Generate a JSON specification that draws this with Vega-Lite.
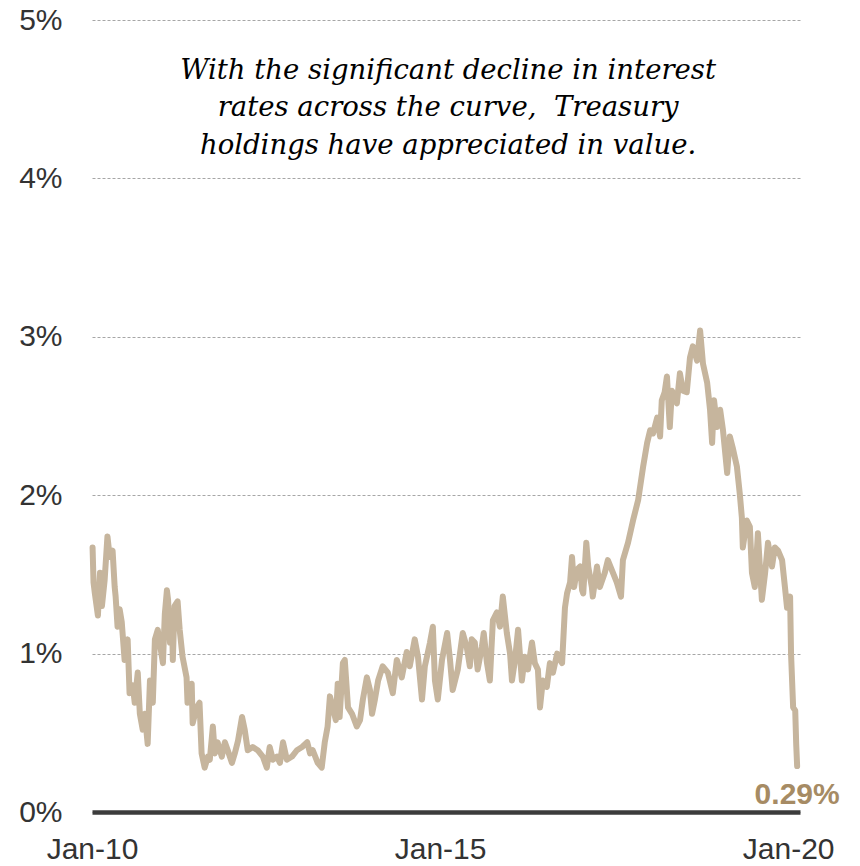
{
  "$schema": "https://vega.github.io/schema/vega-lite/v6.json",
  "width": 708,
  "height": 792,
  "autosize": "none",
  "padding": {"left": 92, "top": 20, "right": 60, "bottom": 54},
  "background": "white",
  "config": {"view": {"stroke": null}},
  "datasets": {
    "series": [
      {"date":"2010-01-04","value":1.67},{"date":"2010-01-09","value":1.45},{"date":"2010-01-16","value":1.38},{"date":"2010-02-01","value":1.24},
      {"date":"2010-02-12","value":1.51},{"date":"2010-02-22","value":1.30},{"date":"2010-03-08","value":1.46},{"date":"2010-03-23","value":1.74},
      {"date":"2010-04-04","value":1.61},{"date":"2010-04-19","value":1.65},{"date":"2010-04-30","value":1.42},{"date":"2010-05-05","value":1.36},
      {"date":"2010-05-15","value":1.17},{"date":"2010-05-26","value":1.28},{"date":"2010-06-06","value":1.20},{"date":"2010-06-21","value":0.96},
      {"date":"2010-07-07","value":1.09},{"date":"2010-07-17","value":0.75},{"date":"2010-08-03","value":0.80},{"date":"2010-08-13","value":0.69},
      {"date":"2010-08-29","value":0.88},{"date":"2010-09-09","value":0.62},{"date":"2010-09-24","value":0.52},{"date":"2010-10-05","value":0.62},
      {"date":"2010-10-20","value":0.43},{"date":"2010-11-01","value":0.83},{"date":"2010-11-16","value":0.69},{"date":"2010-11-27","value":1.09},
      {"date":"2010-12-12","value":1.15},{"date":"2010-12-22","value":1.07},{"date":"2011-01-08","value":0.94},{"date":"2011-01-18","value":1.25},
      {"date":"2011-01-29","value":1.40},{"date":"2011-02-04","value":1.34},{"date":"2011-02-14","value":1.07},{"date":"2011-02-25","value":1.21},
      {"date":"2011-03-01","value":0.96},{"date":"2011-03-10","value":1.30},{"date":"2011-03-26","value":1.33},{"date":"2011-04-06","value":1.15},
      {"date":"2011-04-21","value":0.98},{"date":"2011-05-12","value":0.85},{"date":"2011-05-17","value":0.69},{"date":"2011-06-08","value":0.81},
      {"date":"2011-06-13","value":0.56},{"date":"2011-07-04","value":0.66},{"date":"2011-07-19","value":0.69},{"date":"2011-07-30","value":0.37},
      {"date":"2011-08-15","value":0.28},{"date":"2011-09-01","value":0.35},{"date":"2011-09-11","value":0.33},{"date":"2011-09-27","value":0.54},
      {"date":"2011-10-07","value":0.37},{"date":"2011-10-22","value":0.44},{"date":"2011-11-13","value":0.35},{"date":"2011-11-29","value":0.44},
      {"date":"2011-12-14","value":0.39},{"date":"2012-01-05","value":0.31},{"date":"2012-01-20","value":0.37},{"date":"2012-02-06","value":0.45},
      {"date":"2012-02-27","value":0.60},{"date":"2012-03-12","value":0.52},{"date":"2012-03-28","value":0.39},{"date":"2012-04-23","value":0.41},
      {"date":"2012-05-19","value":0.39},{"date":"2012-06-15","value":0.35},{"date":"2012-07-06","value":0.28},{"date":"2012-07-21","value":0.41},
      {"date":"2012-08-07","value":0.33},{"date":"2012-08-28","value":0.35},{"date":"2012-09-13","value":0.31},{"date":"2012-09-29","value":0.44},
      {"date":"2012-10-19","value":0.33},{"date":"2012-11-15","value":0.35},{"date":"2012-12-11","value":0.39},{"date":"2013-01-07","value":0.41},
      {"date":"2013-02-03","value":0.44},{"date":"2013-02-18","value":0.37},{"date":"2013-03-04","value":0.39},{"date":"2013-03-30","value":0.31},
      {"date":"2013-04-20","value":0.28},{"date":"2013-05-06","value":0.44},{"date":"2013-05-21","value":0.54},{"date":"2013-06-02","value":0.73},
      {"date":"2013-06-17","value":0.66},{"date":"2013-07-03","value":0.58},{"date":"2013-07-13","value":0.81},{"date":"2013-07-23","value":0.60},
      {"date":"2013-08-09","value":0.94},{"date":"2013-08-19","value":0.96},{"date":"2013-09-05","value":0.66},{"date":"2013-09-26","value":0.62},
      {"date":"2013-10-21","value":0.54},{"date":"2013-11-07","value":0.58},{"date":"2013-11-22","value":0.71},{"date":"2013-12-13","value":0.85},
      {"date":"2013-12-29","value":0.77},{"date":"2014-01-09","value":0.62},{"date":"2014-01-24","value":0.71},{"date":"2014-02-10","value":0.83},
      {"date":"2014-03-06","value":0.92},{"date":"2014-04-02","value":0.88},{"date":"2014-04-28","value":0.75},{"date":"2014-05-19","value":0.96},
      {"date":"2014-06-14","value":0.85},{"date":"2014-07-10","value":1.01},{"date":"2014-07-26","value":0.92},{"date":"2014-08-21","value":1.09},
      {"date":"2014-09-07","value":0.98},{"date":"2014-09-28","value":0.71},{"date":"2014-10-13","value":0.92},{"date":"2014-11-09","value":1.07},
      {"date":"2014-11-24","value":1.17},{"date":"2014-12-05","value":0.83},{"date":"2014-12-20","value":0.71},{"date":"2015-01-11","value":0.96},
      {"date":"2015-02-07","value":1.13},{"date":"2015-02-22","value":0.96},{"date":"2015-03-08","value":0.77},{"date":"2015-04-04","value":0.90},
      {"date":"2015-04-30","value":1.13},{"date":"2015-05-21","value":1.04},{"date":"2015-06-06","value":0.92},{"date":"2015-06-16","value":1.09},
      {"date":"2015-07-02","value":1.07},{"date":"2015-07-17","value":0.90},{"date":"2015-08-08","value":1.04},{"date":"2015-08-18","value":1.13},
      {"date":"2015-09-04","value":0.94},{"date":"2015-09-19","value":0.83},{"date":"2015-10-05","value":1.21},{"date":"2015-10-26","value":1.26},
      {"date":"2015-11-11","value":1.17},{"date":"2015-11-26","value":1.36},{"date":"2015-12-17","value":1.13},{"date":"2016-01-03","value":1.00},
      {"date":"2016-01-13","value":0.83},{"date":"2016-01-29","value":0.96},{"date":"2016-02-14","value":1.15},{"date":"2016-03-05","value":0.83},
      {"date":"2016-03-20","value":0.98},{"date":"2016-04-06","value":0.90},{"date":"2016-04-27","value":1.07},{"date":"2016-05-12","value":0.94},
      {"date":"2016-05-28","value":0.90},{"date":"2016-06-08","value":0.66},{"date":"2016-06-23","value":0.83},{"date":"2016-07-14","value":0.79},
      {"date":"2016-07-30","value":0.94},{"date":"2016-08-15","value":0.88},{"date":"2016-09-06","value":1.00},{"date":"2016-09-21","value":0.96},
      {"date":"2016-10-02","value":0.94},{"date":"2016-10-17","value":1.29},{"date":"2016-10-28","value":1.38},{"date":"2016-11-13","value":1.45},
      {"date":"2016-11-23","value":1.61},{"date":"2016-12-04","value":1.42},{"date":"2016-12-19","value":1.53},{"date":"2017-01-05","value":1.55},
      {"date":"2017-01-15","value":1.40},{"date":"2017-01-21","value":1.38},{"date":"2017-02-06","value":1.70},{"date":"2017-02-16","value":1.55},
      {"date":"2017-03-07","value":1.42},{"date":"2017-03-12","value":1.36},{"date":"2017-04-03","value":1.55},{"date":"2017-04-18","value":1.42},
      {"date":"2017-05-14","value":1.51},{"date":"2017-05-30","value":1.59},{"date":"2017-06-26","value":1.51},{"date":"2017-07-16","value":1.45},
      {"date":"2017-08-07","value":1.36},{"date":"2017-08-17","value":1.59},{"date":"2017-09-13","value":1.70},{"date":"2017-10-09","value":1.84},
      {"date":"2017-11-05","value":1.97},{"date":"2017-12-01","value":2.18},{"date":"2017-12-22","value":2.33},{"date":"2018-01-07","value":2.41},
      {"date":"2018-01-22","value":2.39},{"date":"2018-02-13","value":2.49},{"date":"2018-02-28","value":2.37},{"date":"2018-03-09","value":2.60},
      {"date":"2018-03-24","value":2.65},{"date":"2018-04-05","value":2.75},{"date":"2018-04-20","value":2.43},{"date":"2018-05-01","value":2.66},
      {"date":"2018-05-16","value":2.62},{"date":"2018-05-27","value":2.58},{"date":"2018-06-12","value":2.77},{"date":"2018-06-28","value":2.66},
      {"date":"2018-07-18","value":2.65},{"date":"2018-08-04","value":2.87},{"date":"2018-08-19","value":2.94},{"date":"2018-09-10","value":2.85},
      {"date":"2018-09-26","value":3.04},{"date":"2018-10-11","value":2.83},{"date":"2018-11-02","value":2.71},{"date":"2018-11-17","value":2.54},
      {"date":"2018-11-28","value":2.33},{"date":"2018-12-08","value":2.60},{"date":"2018-12-24","value":2.43},{"date":"2019-01-09","value":2.54},
      {"date":"2019-01-24","value":2.41},{"date":"2019-02-15","value":2.14},{"date":"2019-03-01","value":2.37},{"date":"2019-03-16","value":2.30},
      {"date":"2019-04-07","value":2.18},{"date":"2019-04-22","value":2.01},{"date":"2019-05-03","value":1.86},{"date":"2019-05-08","value":1.67},
      {"date":"2019-05-29","value":1.84},{"date":"2019-06-14","value":1.80},{"date":"2019-06-25","value":1.51},{"date":"2019-07-10","value":1.42},
      {"date":"2019-07-26","value":1.76},{"date":"2019-08-16","value":1.34},{"date":"2019-09-02","value":1.51},{"date":"2019-09-17","value":1.70},
      {"date":"2019-10-08","value":1.55},{"date":"2019-10-23","value":1.67},{"date":"2019-11-09","value":1.65},{"date":"2019-11-30","value":1.59},
      {"date":"2019-12-15","value":1.42},{"date":"2019-12-26","value":1.29},{"date":"2020-01-11","value":1.36},{"date":"2020-01-16","value":1.00},
      {"date":"2020-01-27","value":0.66},{"date":"2020-02-07","value":0.64},{"date":"2020-02-12","value":0.43},{"date":"2020-02-17","value":0.29}
    ],
    "endLabel": [{"date":"2020-02-17","value":0.29,"label":"0.29%"}],
    "note": [{"date":"2015-02-12","value":4.68,"text":["With the significant decline in interest","rates across the curve,\u00a0 Treasury\u00a0\u00a0\u00a0","holdings have appreciated in value."]}]
  },
  "layer": [
    {
      "data": {"name": "series"},
      "mark": {"type": "line", "color": "#c6b59d", "strokeWidth": 6, "strokeCap": "round", "strokeJoin": "round", "clip": false},
      "encoding": {
        "x": {
          "field": "date", "type": "temporal",
          "scale": {"type": "utc", "domain": [{"year": 2010, "month": 1, "date": 1, "utc": true}, {"year": 2020, "month": 3, "date": 3, "utc": true}]},
          "axis": {
            "title": null,
            "values": [{"year": 2010, "month": 1, "date": 1, "utc": true}, {"year": 2015, "month": 1, "date": 1, "utc": true}, {"year": 2020, "month": 1, "date": 1, "utc": true}],
            "labelExpr": "utcFormat(datum.value, '%b-%y')",
            "grid": false, "ticks": false,
            "domain": true, "domainColor": "#3c3c3c", "domainWidth": 4.5,
            "labelFont": "Liberation Sans", "labelFontSize": 30, "labelColor": "#333333",
            "labelPadding": 22, "labelFlush": false, "labelOverlap": false
          }
        },
        "y": {
          "field": "value", "type": "quantitative",
          "scale": {"domain": [0, 5], "nice": false},
          "axis": {
            "title": null,
            "values": [0, 1, 2, 3, 4, 5],
            "labelExpr": "datum.value + '%'",
            "domain": false, "ticks": false,
            "grid": true, "gridColor": "#a6a6a6", "gridDash": [3, 2], "gridWidth": 1,
            "labelFont": "Liberation Sans", "labelFontSize": 30, "labelColor": "#333333",
            "labelPadding": 30
          }
        }
      }
    },
    {
      "data": {"name": "endLabel"},
      "mark": {"type": "text", "font": "Liberation Sans", "fontWeight": "bold", "fontSize": 30, "color": "#a68b64", "align": "center", "baseline": "middle", "dy": 29},
      "encoding": {
        "x": {"field": "date", "type": "temporal"},
        "y": {"field": "value", "type": "quantitative"},
        "text": {"field": "label"}
      }
    },
    {
      "data": {"name": "note"},
      "mark": {"type": "text", "font": "DejaVu Serif", "fontStyle": "italic", "fontSize": 27.5, "color": "#000000", "align": "center", "baseline": "middle", "lineHeight": 37.5},
      "encoding": {
        "x": {"field": "date", "type": "temporal"},
        "y": {"field": "value", "type": "quantitative"},
        "text": {"field": "text"}
      }
    }
  ]
}
